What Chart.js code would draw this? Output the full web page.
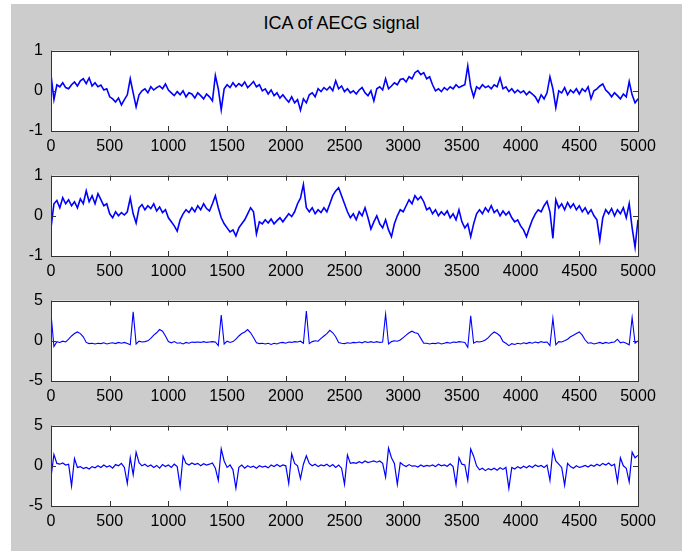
<!DOCTYPE html>
<html>
<head>
<meta charset="utf-8">
<script src="https://cdn.jsdelivr.net/npm/chart.js@4.4.1/dist/chart.umd.min.js"></script>
<style>
  body { margin: 0; background: #ffffff; width: 683px; height: 551px; overflow: hidden; position: relative; }
  #fig { position: absolute; left: 11px; top: 4px; width: 671px; height: 547px; background: #cccccc; }
  #title { position: absolute; left: 0; width: 683px; top: 14px; text-align: center;
           font: 18px "Liberation Sans", Arial, sans-serif; line-height: 18px; color: #000; }
  canvas { position: absolute; left: 0; }
</style>
</head>
<body>
<div id="fig"></div>
<div id="title">ICA of AECG signal</div>
<canvas id="myChart1" width="683" height="125" style="top:33px"></canvas>
<canvas id="myChart2" width="683" height="125" style="top:158px"></canvas>
<canvas id="myChart3" width="683" height="125" style="top:283px"></canvas>
<canvas id="myChart4" width="683" height="125" style="top:408px"></canvas>
<script>
// samples are read every 25 points along 0..5000
let sampleStep = 25;
let xTicks = [0, 500, 1000, 1500, 2000, 2500, 3000, 3500, 4000, 4500, 5000];

let ica1 = [
  0.4, -0.22, 0.15, 0.1, 0.2, 0.08, 0.05, 0.15, 0.22, 0.12, 0.25, 0.3, 0.18, 0.32, 0.12, 0.2, 0.1, 0.14, 0.02, 0.05,
  -0.15, -0.2, -0.28, -0.18, -0.35, -0.22, -0.1, 0.3, -0.05, -0.4, -0.1, 0.0, 0.05, -0.05, 0.1, 0.02, 0.08, 0.12, 0.05, 0.17,
  0.02, -0.05, -0.12, -0.02, -0.1, 0.0, -0.15, -0.05, -0.08, -0.18, -0.05, -0.12, -0.2, -0.08, -0.15, -0.25, 0.38, 0.05, -0.47, 0.05,
  0.15, 0.08, 0.2, 0.1, 0.18, 0.12, 0.22, 0.08, 0.15, 0.23, 0.1, 0.15, 0.0, 0.05, -0.08, 0.02, -0.12, -0.05, -0.18, -0.1,
  -0.2, -0.28, -0.15, -0.3, -0.22, -0.48, -0.2, -0.3, -0.1, -0.05, -0.15, 0.05, -0.02, 0.08, 0.02, 0.1, 0.0, 0.25, 0.05, 0.12,
  -0.02, 0.05, -0.05, 0.0, -0.08, 0.02, 0.08, -0.05, -0.12, 0.0, -0.25, 0.05, 0.1, 0.02, 0.3, 0.05, 0.12, 0.2, 0.15, 0.28,
  0.3, 0.22, 0.35, 0.3, 0.45, 0.5, 0.4, 0.45, 0.3, 0.35, 0.15, 0.0, 0.05, -0.02, 0.08, 0.02, 0.1, 0.05, 0.15, 0.08,
  0.12, 0.15, 0.62, 0.1, -0.15, 0.1, 0.05, 0.15, 0.08, 0.12, 0.05, 0.15, 0.1, 0.32, 0.05, 0.1, -0.02, 0.05, -0.05, 0.02,
  -0.05, 0.0, -0.1, -0.02, -0.08, -0.15, -0.28, -0.1, -0.2, -0.05, 0.35, 0.05, -0.42, 0.0, -0.05, 0.08, -0.1, 0.02, -0.05, 0.05,
  -0.08, 0.05, -0.02, 0.1, -0.2, 0.0, 0.05, 0.12, 0.17, 0.02, -0.05, -0.15, -0.05, -0.12, -0.2, -0.08, -0.15, 0.23, -0.1, -0.3, -0.2
];

let ica2 = [
  -0.3, 0.3, 0.38, 0.2, 0.45, 0.3, 0.4, 0.25, 0.35, 0.2, 0.42, 0.3, 0.62, 0.35, 0.5, 0.3, 0.55, 0.4, 0.25, 0.3,
  0.05, -0.05, 0.1, 0.0, 0.08, 0.02, 0.1, 0.44, 0.05, -0.18, 0.2, 0.28, 0.15, 0.25, 0.18, 0.3, 0.12, 0.22, 0.08, 0.15,
  -0.05, -0.15, -0.25, -0.38, -0.1, 0.05, 0.15, 0.08, 0.2, 0.1, 0.25, 0.15, 0.3, 0.18, 0.12, 0.3, 0.5, 0.2, -0.05, -0.2,
  -0.3, -0.4, -0.35, -0.5, -0.3, -0.2, -0.1, 0.05, 0.2, 0.1, -0.45, -0.15, -0.2, -0.1, -0.18, -0.08, -0.2, -0.12, -0.05, -0.15,
  -0.05, 0.05, -0.02, 0.1, 0.3, 0.44, 0.78, 0.2, 0.1, 0.2, 0.05, 0.15, 0.08, 0.2, 0.1, 0.3, 0.5, 0.62, 0.7, 0.5,
  0.3, 0.1, -0.05, 0.05, -0.1, 0.1, 0.0, 0.2, -0.05, -0.33, -0.15, 0.0, -0.2, -0.3, -0.1, -0.35, -0.52, -0.2, 0.0, 0.15,
  0.1, 0.25, 0.4, 0.3, 0.5, 0.4, 0.48, 0.35, 0.15, 0.2, 0.05, 0.15, 0.0, 0.1, 0.02, 0.12, -0.05, 0.05, -0.1, 0.15,
  -0.15, -0.3, -0.2, -0.52, -0.2, 0.05, 0.15, 0.05, 0.2, 0.1, 0.25, 0.08, 0.15, 0.0, 0.12, 0.02, 0.1, -0.05, -0.15, -0.1,
  -0.25, -0.35, -0.52, -0.3, -0.1, 0.05, 0.15, 0.1, 0.25, 0.36, 0.1, -0.56, 0.4, 0.2, 0.3, 0.15, 0.33, 0.2, 0.3, 0.15,
  0.25, 0.1, 0.2, 0.05, 0.15, 0.0, -0.1, -0.6, -0.05, 0.15, 0.05, 0.18, 0.0, 0.15, 0.05, 0.2, -0.05, 0.3, -0.3, -0.78, -0.1
];

let ica3 = [
  3.4, -0.7, -0.1, -0.2, -0.05, -0.15, 0.2, 0.6, 0.9, 1.1, 0.9, 0.5, -0.2, -0.35, -0.3, -0.4, -0.3, -0.35, -0.25, -0.4,
  -0.3, -0.25, -0.35, -0.2, -0.3, -0.2, -0.35, -0.5, 3.6, -0.4, -0.05, -0.15, -0.1, 0.0, 0.3, 0.7, 1.0, 1.4, 1.2, 0.6,
  -0.1, -0.25, -0.1, -0.3, -0.25, -0.4, -0.2, -0.3, -0.15, -0.2, -0.15, -0.2, -0.1, -0.2, -0.15, -0.1, -0.15, -0.6, 3.2, -0.4,
  -0.05, -0.2, -0.1, 0.2, 0.6, 0.9, 1.1, 1.4, 1.0, 0.4, -0.25, -0.35, -0.3, -0.4, -0.3, -0.45, -0.3, -0.4, -0.25, -0.2,
  -0.3, -0.15, -0.2, -0.1, -0.15, -0.05, -0.3, 3.7, -0.35, -0.1, 0.0, -0.05, 0.3, 0.6, 0.9, 1.3, 1.0, 0.5, -0.2, -0.3,
  -0.35, -0.25, -0.3, -0.2, -0.25, -0.15, -0.25, -0.1, -0.2, -0.1, -0.2, -0.1, -0.2, -0.15, 3.3, -0.4, -0.1, 0.0, -0.05, 0.1,
  0.4, 0.7, 1.0, 1.2, 1.0, 0.9, 0.3, -0.3, -0.3, -0.4, -0.3, -0.35, -0.25, -0.4, -0.3, -0.2, -0.3, -0.15, -0.2, -0.1,
  -0.15, -0.2, -0.8, 3.1, -0.3, -0.1, -0.15, -0.05, 0.1, 0.4, 0.8, 1.1, 0.9, 0.6, -0.1, -0.3, -0.6, -0.35, -0.45, -0.3,
  -0.4, -0.25, -0.35, -0.2, -0.3, -0.15, -0.25, -0.1, -0.2, -0.15, -0.6, 2.8, -0.5, -0.1, -0.15, 0.0, 0.2, 0.5, 0.7, 0.9,
  1.1, 0.7, 0.1, -0.3, -0.25, -0.4, -0.3, -0.2, -0.35, -0.2, -0.3, -0.2, -0.15, 0.2, -0.25, -0.15, -0.3, -0.5, 2.9, -0.3, 0.0
];

let ica4 = [
  -1.4, 1.4, 0.3, 0.2, 0.35, 0.1, 0.2, -2.5, 0.9, -0.2, -0.1, -0.35, -0.2, -0.4, -0.1, -0.25, 0.0, -0.2, 0.1, -0.15,
  0.0, -0.3, 0.15, 0.0, 0.3, -0.2, -2.2, 1.0, -1.1, 1.7, 0.4, 0.0, 0.2, -0.1, 0.1, -0.2, 0.05, -0.3, 0.15, -0.1,
  0.1, -0.2, 0.2, -0.1, -2.6, 1.2, 0.3, 0.1, 0.35, 0.15, 0.3, 0.0, 0.25, 0.1, 0.2, 0.35, -0.3, -1.8, 2.1, 0.6,
  -0.2, 0.1, -0.5, -2.8, -0.2, 0.1, -0.3, 0.0, -0.2, -0.05, -0.3, 0.0, -0.15, -0.05, -0.25, 0.1, -0.1, 0.15, -0.1, 0.1,
  0.0, -2.2, 1.5, 0.3, 0.0, -1.6, 0.2, 1.25, 0.3, 0.0, 0.2, -0.1, 0.1, 0.0, 0.2, -0.1, 0.15, -0.2, 0.1, -0.3,
  -2.3, 1.35, 0.3, 0.4, 0.3, 0.5, 0.35, 0.6, 0.4, 0.5, 0.6, 0.45, 0.6, 0.3, -1.4, 2.2, 1.0, 0.3, -2.3, 0.4,
  0.1, -0.1, 0.15, -0.05, 0.0, -0.15, 0.1, -0.1, 0.05, -0.05, 0.1, -0.1, 0.2, 0.0, 0.1, -0.05, 0.25, -0.1, -2.3, 1.0,
  0.2, 0.1, -1.8, 2.1, 1.2, 0.0, -0.5, -0.3, -0.6, -0.35, -0.5, -0.3, -0.55, -0.25, -0.45, -0.2, -2.8, -0.2, -0.4, -0.1,
  -0.3, -0.05, -0.25, 0.0, -0.2, 0.1, -0.1, 0.05, -0.2, 0.1, -1.8, 1.9, 0.6, 0.2, -0.2, -2.4, 0.3, -0.1, -0.3, 0.0,
  -0.2, -0.1, 0.05, -0.15, 0.1, -0.05, 0.2, 0.0, 0.3, 0.1, 0.35, 0.0, 0.2, -2.0, 1.0, 0.0, -0.3, -2.0, 1.7, 1.0, 1.3
];

let yTicksSmall = [-1, 0, 1];
let yTicksLarge = [-5, 0, 5];

let lineColor = '#0000ff';
let axisColor = '#333333';
let tickFont = { family: '"Liberation Sans", Arial, sans-serif', size: 16 };

// white plot area, black box and inward ticks like a matlab axes
let matlabAxes = {
  id: 'matlabAxes',
  beforeDraw(chart) {
    let a = chart.chartArea, ctx = chart.ctx;
    ctx.save();
    ctx.fillStyle = '#ffffff';
    ctx.fillRect(a.left, a.top, a.right - a.left, a.bottom - a.top);
    ctx.restore();
  },
  afterDatasetsDraw(chart) {
    let a = chart.chartArea, ctx = chart.ctx;
    let xs = chart.scales.x, ys = chart.scales.y;
    ctx.save();
    ctx.strokeStyle = axisColor;
    ctx.lineWidth = 1;
    ctx.beginPath();
    xs.ticks.forEach(t => {
      let px = Math.round(xs.getPixelForValue(t.value)) + 0.5;
      ctx.moveTo(px, a.top); ctx.lineTo(px, a.top + 5);
      ctx.moveTo(px, a.bottom); ctx.lineTo(px, a.bottom - 5);
    });
    ys.ticks.forEach(t => {
      let py = Math.round(ys.getPixelForValue(t.value)) + 0.5;
      ctx.moveTo(a.left, py); ctx.lineTo(a.left + 5, py);
      ctx.moveTo(a.right, py); ctx.lineTo(a.right - 5, py);
    });
    ctx.stroke();
    ctx.strokeRect(Math.round(a.left) + 0.5, Math.round(a.top) + 0.5,
                   Math.round(a.right - a.left), Math.round(a.bottom - a.top));
    ctx.restore();
  }
};

function makePanel(id, values, yTicks, lineWidth) {
  let points = values.map((v, i) => ({ x: i * sampleStep, y: v }));
  let ctx = document.getElementById(id).getContext('2d');
  return new Chart(ctx, {
    type: 'line',
    data: {
      datasets: [{
        data: points,
        borderColor: lineColor,
        borderWidth: lineWidth,
        pointRadius: 0,
        tension: 0,
        fill: false
      }]
    },
    options: {
      responsive: false,
      animation: false,
      devicePixelRatio: 1,
      layout: { padding: { left: 0, right: 45, top: 10, bottom: 0 } },
      plugins: { legend: { display: false }, tooltip: { enabled: false }, title: { display: false } },
      scales: {
        x: {
          type: 'linear',
          min: xTicks[0],
          max: xTicks[xTicks.length - 1],
          afterBuildTicks: s => { s.ticks = xTicks.map(v => ({ value: v })); },
          afterFit: s => { s.height = 27; },
          grid: { display: false, drawTicks: false },
          border: { display: false },
          ticks: { color: '#000', font: tickFont, padding: 6, maxRotation: 0, autoSkip: false,
                   callback: v => String(v) }
        },
        y: {
          type: 'linear',
          min: yTicks[0],
          max: yTicks[yTicks.length - 1],
          afterBuildTicks: s => { s.ticks = yTicks.map(v => ({ value: v })); },
          afterFit: s => { s.width = 51; },
          grid: { display: false, drawTicks: false },
          border: { display: false },
          ticks: { color: '#000', font: tickFont, padding: 8, callback: v => String(v) }
        }
      }
    },
    plugins: [matlabAxes]
  });
}

let chart1 = makePanel('myChart1', ica1, yTicksSmall, 1.6);
let chart2 = makePanel('myChart2', ica2, yTicksSmall, 1.6);
let chart3 = makePanel('myChart3', ica3, yTicksLarge, 1.1);
let chart4 = makePanel('myChart4', ica4, yTicksLarge, 1.2);
</script>
</body>
</html>
